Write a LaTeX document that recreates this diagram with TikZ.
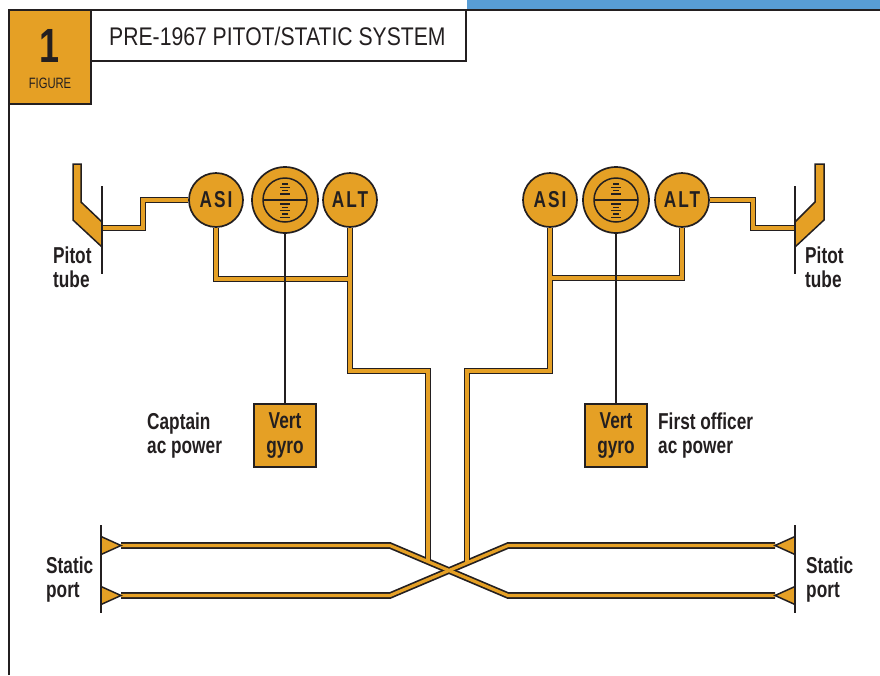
\documentclass[tikz,border=0pt]{standalone}
\usepackage{fontspec}
\setmainfont{Liberation Sans}
\newfontfamily\labelfont[FakeStretch=0.75]{Liberation Sans}
\newfontfamily\gaugefont[FakeStretch=0.75,LetterSpace=9]{Liberation Sans}
\newfontfamily\titlefont[FakeStretch=0.83]{Liberation Sans}
\usetikzlibrary{backgrounds}
\definecolor{amber}{RGB}{229,160,37}
\definecolor{ink}{RGB}{35,31,32}
\definecolor{skyblue}{RGB}{88,157,213}
\tikzset{
  gauge/.style = {circle, draw=ink, fill=amber, line width=1.7pt, inner sep=0pt,
    minimum size=54pt, text=ink, font=\gaugefont\bfseries\fontsize{23}{24}\selectfont},
  gyrobox/.style = {rectangle, draw=ink, fill=amber, line width=1.7pt, inner sep=0pt,
    minimum width=62pt, minimum height=63pt, align=center, text=ink,
    font=\labelfont\bfseries\fontsize{23}{25}\selectfont},
  caption/.style = {anchor=north west, inner sep=0pt, align=left, text=ink,
    font=\labelfont\bfseries\fontsize{23}{23.5}\selectfont},
  port/.style = {draw=ink, fill=amber, line width=1.5pt, line join=miter},
  rail/.style = {draw=ink, line width=1.7pt}
}
\begin{document}
\begin{tikzpicture}[x=1pt, y=-1pt]
\useasboundingbox (0,0) rectangle (880,675);
% header
\fill[skyblue] (467,0) rectangle (880,9.5);
\draw[ink, line width=2pt] (9,675) -- (9,10) -- (880,10);
\draw[ink, line width=2pt, fill=amber] (9,10) rectangle (91,104);
\draw[ink, line width=2pt] (91,10) rectangle (466,61);
\node[anchor=base, inner sep=0pt, text=ink, font=\labelfont\bfseries\fontsize{48}{48}\selectfont] (fignum) at (50,62) {1};
\node[anchor=base, inner sep=0pt, text=ink, font=\labelfont\fontsize{15}{15}\selectfont] (figword) at (50,88) {FIGURE};
\node[anchor=base west, inner sep=0pt, text=ink, font=\titlefont\fontsize{25.5}{26}\selectfont] (title) at (109,45) {PRE-1967 PITOT/STATIC SYSTEM};

% instruments
\node[gauge] (asiL) at (216,200) {ASI};
\node[gauge, minimum size=66pt] (gyL) at (285,200) {};
\node[gauge] (altL) at (350,200) {ALT};
\node[gauge] (asiR) at (550,200) {ASI};
\node[gauge, minimum size=66pt] (gyR) at (616,200) {};
\node[gauge] (altR) at (682,200) {ALT};
\node[gyrobox] (vgL) at (285,435.5) {Vert\\gyro};
\node[gyrobox] (vgR) at (616,435.5) {Vert\\gyro};
\foreach \g in {gyL,gyR} {
  \draw[ink, line width=1.5pt] (\g) circle (22pt);
  \draw[ink, line width=1.5pt] ([xshift=-22pt]\g.center) -- ([xshift=22pt]\g.center);
  \foreach \dy/\hw in {-16/3,-12.7/5,-9.3/3,-6/5,4/5,7.3/3,10.7/5,14/3,17.3/5}
    \draw[ink, line width=1.3pt] ([shift={(-\hw,\dy)}]\g.center) -- ++({2*\hw},0);
}
\begin{scope}[every edge/.style = {draw=ink, line width=1.8pt}]
\path (gyL) edge (vgL);
\path (gyR) edge (vgR);
\end{scope}

% pipe junctions
\coordinate (pitL) at (102,228);
\coordinate (kinkL) at (143,228);
\coordinate (teeL) at (350,279);
\coordinate (bendL) at (428,371);
\coordinate (jL) at (428,561.6);
\coordinate (pitR) at (795,228);
\coordinate (kinkR) at (753,228);
\coordinate (teeR) at (550,278);
\coordinate (bendR) at (467,371);
\coordinate (jR) at (467,562.9);
\coordinate (stLu) at (121,545.5);
\coordinate (stLl) at (121,595.5);
\coordinate (xLu) at (390,545.5);
\coordinate (xLl) at (390,595.5);
\coordinate (xRu) at (508,545.5);
\coordinate (xRl) at (508,595.5);
\coordinate (stRu) at (775,545.5);
\coordinate (stRl) at (775,595.5);

\begin{scope}[on background layer]
\foreach \w/\c in {6.6/ink, 3.2/amber} {
  \begin{scope}[line width=\w pt, color=\c]
  \draw (pitL) -- (kinkL) |- (asiL);
  \draw (asiL) |- (teeL);
  \draw (altL) |- (bendL) -- (jL);
  \draw (asiR) |- (bendR) -- (jR);
  \draw (altR) |- (teeR);
  \draw (altR) -| (kinkR) -- (pitR);
  \draw (stLu) -- (xLu) -- (xRl) -- (stRl);
  \draw (stLl) -- (xLl) -- (xRu) -- (stRu);
  \end{scope}
}
\end{scope}

% pitot tubes and static ports
\draw[port] (73,164) -- (81,164) -- (81,202) -- (102,222) -- (102,247) -- (73,220) -- cycle;
\draw[port] (824,164) -- (815,164) -- (815,202) -- (795,222) -- (795,247) -- (824,220) -- cycle;
\draw[port] (101,536.5) -- (stLu) -- (101,554.5) -- cycle;
\draw[port] (101,586.5) -- (stLl) -- (101,604.5) -- cycle;
\draw[port] (795,536.5) -- (stRu) -- (795,554.5) -- cycle;
\draw[port] (795,586.5) -- (stRl) -- (795,604.5) -- cycle;
\draw[rail] (102,186) -- (102,274);
\draw[rail] (795,186) -- (795,274);
\draw[rail] (101,525) -- (101,613);
\draw[rail] (795,525) -- (795,613);

% labels
\node[caption] (pitotL) at (53,247) {Pitot\\tube};
\node[caption] (pitotR) at (805,247) {Pitot\\tube};
\node[caption] (captPow) at (147,413) {Captain\\ac power};
\node[caption] (foPow) at (658,413) {First officer\\ac power};
\node[caption] (statL) at (46,557) {Static\\port};
\node[caption] (statR) at (806,557) {Static\\port};
\end{tikzpicture}
\end{document}
